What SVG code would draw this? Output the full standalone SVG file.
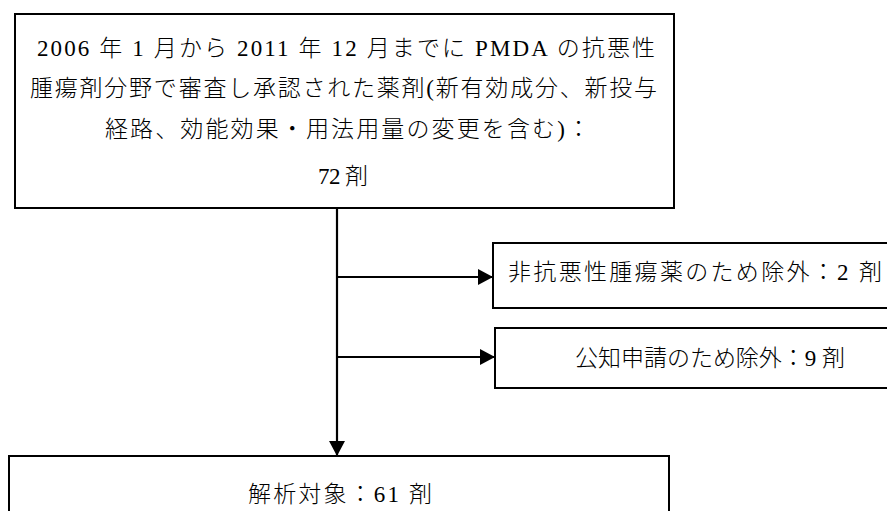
<svg xmlns="http://www.w3.org/2000/svg" width="887" height="511" viewBox="0 0 887 511">
<defs>
<style>
.box{fill:#fff;stroke:#000;stroke-width:2}
.con{fill:none;stroke:#000;stroke-width:2.2}
.t{font-family:"Liberation Serif","Noto Sans CJK JP",serif;font-size:23px;font-weight:300;fill:#000}
</style>
<marker id="ah" markerUnits="userSpaceOnUse" markerWidth="16" markerHeight="16" refX="15" refY="8" orient="auto">
<path d="M0,0 L15,8 L0,16 z" fill="#000"/>
</marker>
</defs>
<rect width="887" height="511" fill="#fff"/>
<g id="connectors">
<line class="con" x1="337" y1="208" x2="337" y2="456" marker-end="url(#ah)"/>
<line class="con" x1="337" y1="277" x2="493" y2="277" marker-end="url(#ah)"/>
<line class="con" x1="337" y1="357" x2="495" y2="357" marker-end="url(#ah)"/>
</g>
<g id="node-source">
<rect class="box" x="15" y="14" width="659" height="194"/>
<text class="t" x="37" y="56" textLength="618" lengthAdjust="spacing">2006 年 1 月から 2011 年 12 月までに PMDA の抗悪性</text>
<text class="t" x="30" y="96" textLength="627" lengthAdjust="spacing">腫瘍剤分野で審査し承認された薬剤(新有効成分、新投与</text>
<text class="t" x="105" y="137" textLength="485" lengthAdjust="spacing">経路、効能効果・用法用量の変更を含む)：</text>
<text class="t" x="318" y="184" textLength="50" lengthAdjust="spacing">72 剤</text>
</g>
<g id="node-excl1">
<rect class="box" x="493" y="243" width="400" height="65"/>
<text class="t" x="508" y="280" textLength="374" lengthAdjust="spacing">非抗悪性腫瘍薬のため除外：2 剤</text>
</g>
<g id="node-excl2">
<rect class="box" x="495" y="328" width="400" height="60"/>
<text class="t" x="575" y="366" textLength="270" lengthAdjust="spacing">公知申請のため除外：9 剤</text>
</g>
<g id="node-target">
<rect class="box" x="9" y="456" width="660" height="70"/>
<text class="t" x="248" y="502" textLength="184" lengthAdjust="spacing">解析対象：61 剤</text>
</g>
</svg>
